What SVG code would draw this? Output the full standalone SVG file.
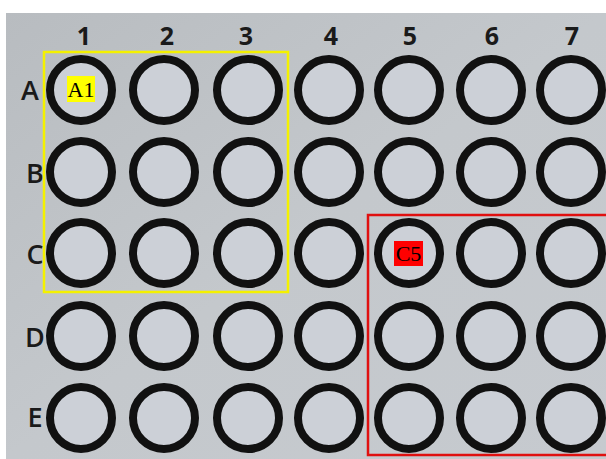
<svg xmlns="http://www.w3.org/2000/svg" width="606" height="459" viewBox="0 0 606 459">
<defs>
<linearGradient id="bg" x1="0" y1="0" x2="1" y2="1">
<stop offset="0" stop-color="#b8bcc0"/>
<stop offset="0.5" stop-color="#c4c8cc"/>
<stop offset="1" stop-color="#c6cacf"/>
</linearGradient>
<style>
.well{fill:#ccd0d7;stroke:#111;stroke-width:8}
.col{font-family:"Open Sans","DejaVu Sans",sans-serif;font-weight:bold;font-size:25px;fill:#1a1a1a;text-anchor:middle}
.row{font-family:"Open Sans","DejaVu Sans",sans-serif;font-weight:600;font-size:27px;fill:#1a1a1a;text-anchor:middle}
.tag{font-family:"Liberation Serif","Times New Roman",serif;font-size:22px;fill:#000;text-anchor:middle}
</style>
</defs>
<rect width="606" height="459" fill="#ffffff"/>
<rect x="6" y="13" width="600" height="446" fill="url(#bg)"/>
<g id="col-labels">
<text class="col" x="84" y="45">1</text>
<text class="col" x="167" y="45">2</text>
<text class="col" x="246" y="45">3</text>
<text class="col" x="331" y="45">4</text>
<text class="col" x="410" y="45">5</text>
<text class="col" x="492" y="45">6</text>
<text class="col" x="572" y="45">7</text>
</g>
<g id="row-labels">
<text class="row" x="30" y="100">A</text>
<text class="row" x="35" y="183">B</text>
<text class="row" x="35" y="264">C</text>
<text class="row" x="35" y="347">D</text>
<text class="row" x="35" y="427">E</text>
</g>
<g id="wells">
<g id="row-A">
<circle class="well" cx="81" cy="90" r="31"/>
<circle class="well" cx="164" cy="90" r="31"/>
<circle class="well" cx="248" cy="90" r="31"/>
<circle class="well" cx="329" cy="90" r="31"/>
<circle class="well" cx="409" cy="90" r="31"/>
<circle class="well" cx="491" cy="90" r="31"/>
<circle class="well" cx="571" cy="90" r="31"/>
</g>
<g id="row-B">
<circle class="well" cx="81" cy="172" r="31"/>
<circle class="well" cx="164" cy="172" r="31"/>
<circle class="well" cx="248" cy="172" r="31"/>
<circle class="well" cx="329" cy="172" r="31"/>
<circle class="well" cx="409" cy="172" r="31"/>
<circle class="well" cx="491" cy="172" r="31"/>
<circle class="well" cx="571" cy="172" r="31"/>
</g>
<g id="row-C">
<circle class="well" cx="81" cy="253" r="31"/>
<circle class="well" cx="164" cy="253" r="31"/>
<circle class="well" cx="248" cy="253" r="31"/>
<circle class="well" cx="329" cy="253" r="31"/>
<circle class="well" cx="409" cy="253" r="31"/>
<circle class="well" cx="491" cy="253" r="31"/>
<circle class="well" cx="571" cy="253" r="31"/>
</g>
<g id="row-D">
<circle class="well" cx="81" cy="336" r="31"/>
<circle class="well" cx="164" cy="336" r="31"/>
<circle class="well" cx="248" cy="336" r="31"/>
<circle class="well" cx="329" cy="336" r="31"/>
<circle class="well" cx="409" cy="336" r="31"/>
<circle class="well" cx="491" cy="336" r="31"/>
<circle class="well" cx="571" cy="336" r="31"/>
</g>
<g id="row-E">
<circle class="well" cx="81" cy="418" r="31"/>
<circle class="well" cx="164" cy="418" r="31"/>
<circle class="well" cx="248" cy="418" r="31"/>
<circle class="well" cx="329" cy="418" r="31"/>
<circle class="well" cx="409" cy="418" r="31"/>
<circle class="well" cx="491" cy="418" r="31"/>
<circle class="well" cx="571" cy="418" r="31"/>
</g>
</g>
<g id="yellow-box">
<rect x="44" y="52" width="244" height="240" fill="none" stroke="#f4f100" stroke-width="2.5"/>
</g>
<g id="red-box">
<rect x="368" y="215" width="250" height="240" fill="none" stroke="#e01010" stroke-width="2.5"/>
</g>
<g id="label-A1">
<rect x="67" y="76" width="28" height="26" fill="#ffff00"/>
<text class="tag" x="81" y="96.5">A1</text>
</g>
<g id="label-C5">
<rect x="394" y="241" width="29" height="25" fill="#ff0000"/>
<text class="tag" x="408.5" y="261">C5</text>
</g>
</svg>
